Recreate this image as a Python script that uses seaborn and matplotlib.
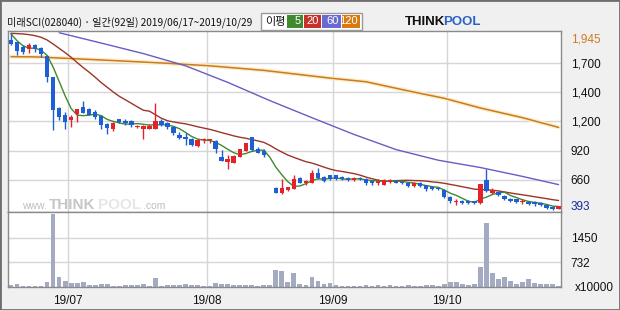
import numpy as np
import pandas as pd
import matplotlib
matplotlib.use('Agg')
import matplotlib.pyplot as plt
import matplotlib.patheffects as pe
from matplotlib.patches import Rectangle
import seaborn as sns

# 일간 시세 (2019/06/17 ~ 2019/10/29, 92일)
opens = [1886, 1869, 1822, 1810, 1840, 1816, 1746, 1565, 1287, 1229,
         1185, 1234, 1296, 1284, 1255, 1220, 1150, 1103, 1191, 1179,
         1173, 1120, 1109, 1109, 1109, 1179, 1155, 1126, 1050, 1038,
         1021, 957, 1009, 1009, 1003, 863, 816, 810, 863, 916,
         1033, 933, 916, 621, 585, 545, 571, 583, 676, 629,
         635, 717, 688, 700, 700, 688, 676, 659, 676, 670,
         647, 635, 618, 641, 653, 641, 635, 606, 635, 612,
         594, 588, 571, 513, 466, 478, 478, 472, 454, 659,
         542, 553, 518, 495, 489, 466, 466, 466, 460, 437,
         425, 407]
highs = [1945, 1869, 1842, 1863, 1851, 1828, 1758, 1565, 1302, 1258,
         1229, 1284, 1354, 1290, 1272, 1226, 1156, 1167, 1197, 1197,
         1185, 1138, 1138, 1150, 1337, 1190, 1167, 1132, 1079, 1074,
         1027, 1015, 1027, 1021, 1009, 922, 881, 875, 933, 986,
         1038, 951, 933, 621, 600, 665, 600, 705, 682, 659,
         746, 764, 694, 705, 705, 694, 688, 682, 682, 676,
         659, 665, 665, 665, 659, 653, 641, 641, 641, 618,
         606, 594, 577, 518, 495, 483, 483, 478, 620, 758,
         588, 559, 524, 501, 495, 489, 472, 477, 466, 442,
         431, 431]
lows = [1842, 1755, 1764, 1775, 1781, 1740, 1518, 1097, 1185, 1109,
        1120, 1170, 1243, 1226, 1191, 1109, 1062, 1085, 1156, 1138,
        1126, 1115, 1021, 1103, 1103, 1132, 1109, 1056, 1015, 968,
        957, 951, 980, 980, 898, 822, 758, 805, 857, 910,
        916, 892, 863, 621, 541, 538, 565, 577, 630, 612,
        629, 665, 641, 659, 659, 659, 647, 653, 659, 612,
        618, 618, 612, 635, 629, 623, 600, 600, 600, 565,
        571, 571, 501, 460, 442, 448, 448, 448, 448, 553,
        536, 518, 483, 466, 460, 448, 442, 431, 431, 407,
        393, 402]
closes = [1851, 1793, 1781, 1840, 1804, 1764, 1565, 1272, 1208, 1170,
          1208, 1278, 1249, 1232, 1214, 1138, 1115, 1161, 1167, 1161,
          1144, 1132, 1132, 1132, 1176, 1144, 1126, 1068, 1027, 1015,
          968, 1009, 1021, 1015, 933, 828, 846, 869, 927, 980,
          922, 898, 875, 621, 545, 585, 594, 670, 635, 647,
          717, 676, 653, 670, 670, 670, 659, 676, 665, 629,
          635, 653, 659, 659, 635, 629, 606, 629, 606, 577,
          583, 577, 507, 472, 478, 454, 454, 454, 620, 559,
          571, 524, 489, 472, 466, 477, 448, 448, 437, 413,
          402, 431]
# 거래량 (x10000)
volumes = [59, 88, 29, 29, 29, 29, 147, 2140, 293, 176,
           117, 117, 147, 59, 59, 88, 88, 29, 29, 59,
           59, 59, 88, 29, 264, 29, 59, 59, 59, 88,
           59, 59, 29, 29, 117, 88, 88, 59, 59, 59,
           59, 29, 59, 59, 498, 469, 147, 410, 88, 59,
           293, 176, 88, 117, 59, 29, 29, 29, 29, 59,
           29, 59, 29, 59, 29, 29, 59, 29, 29, 59,
           59, 29, 88, 147, 147, 88, 59, 88, 586, 1876,
           410, 234, 293, 176, 88, 147, 234, 117, 88, 88,
           88, 29]

# 5일선 / 20일선 앞부분 (이전 데이터 필요 구간, 차트에서 읽음)
ma5_head = [1939, 1880, 1835, 1815]
ma20_head = [1945, 1942, 1939, 1933, 1924, 1910, 1886, 1851, 1813, 1775,
             1734, 1688, 1644, 1603, 1559, 1512, 1471, 1430, 1392, 1362,
             1331, 1300, 1270]
# 60일선, 120일선
ma60_idx = [8, 15, 22, 29, 36, 43, 50, 57, 64, 71, 78, 85, 91]
ma60_val = [1950, 1859, 1767, 1660, 1515, 1355, 1205, 1058, 925, 832, 768, 690, 618]
ma120_idx = [0, 4, 15, 26, 33, 42, 53, 59, 66, 72, 78, 85, 91]
ma120_val = [1740, 1738, 1711, 1682, 1660, 1620, 1552, 1520, 1440, 1375, 1290, 1205, 1120]

month_start = [10, 33, 54, 73]
month_labels = ['19/07', '19/08', '19/09', '19/10']
price_labels = ['1,700', '1,400', '1,200', '920', '660']
vol_ticks = [732, 1450]

title = '미래SCI(028040) · 일간(92일) 2019/06/17~2019/10/29'

df = pd.DataFrame({'open': opens, 'high': highs, 'low': lows,
                   'close': closes, 'volume': volumes})
df['i'] = np.arange(len(df))
df['ma5'] = df['close'].rolling(5).mean()
df.loc[:len(ma5_head) - 1, 'ma5'] = ma5_head
df['ma20'] = df['close'].rolling(20).mean()
df.loc[:len(ma20_head) - 1, 'ma20'] = ma20_head

RED = '#e4222a'
BLUE = '#1f5fd6'

sns.set_theme(style='white')
plt.rcParams['font.family'] = ['Noto Sans CJK KR', 'DejaVu Sans']
LAT = ['Liberation Sans', 'DejaVu Sans']

W, H = 620, 310
fig = plt.figure(figsize=(6.2, 3.1), dpi=100, facecolor='#f0f0f0')

def fx(px):
    return px / W

def fy(py):
    return 1 - py / H

ax = fig.add_axes([fx(8), fy(212), (561 - 8) / W, (212 - 31) / H])
axv = fig.add_axes([fx(8), fy(287), (561 - 8) / W, (287 - 212) / H])

# 월 구분선
for a in (ax, axv):
    for m in month_start:
        a.axvline(m - 0.5, color='#d6d6d6', lw=1, zorder=0)
    a.set_xlim(-0.5, 91.4)
    for s in a.spines.values():
        s.set_color('#8a8a8a')
        s.set_linewidth(1)

# 캔들
up = df['close'] > df['open']
col = np.where(up, RED, BLUE)
ax.vlines(df['i'], df['low'], df['high'], colors=col, lw=1, zorder=3)
body = (df['close'] - df['open']).abs().clip(lower=6)
ax.bar(df['i'], body, bottom=np.minimum(df['open'], df['close']),
       width=0.72, color=col, lw=0, zorder=4)

# 이동평균선
sns.lineplot(x=ma120_idx, y=ma120_val, ax=ax, color='#c97a22', lw=1.1, zorder=2,
             path_effects=[pe.Stroke(linewidth=3, foreground='#fdeec8'), pe.Normal()])
sns.lineplot(x=ma60_idx, y=ma60_val, ax=ax, color='#6a5cc4', lw=1, zorder=2)
sns.lineplot(x=df['i'], y=df['ma20'], ax=ax, color='#9c3526', lw=1, zorder=2)
sns.lineplot(x=df['i'], y=df['ma5'], ax=ax, color='#3f8a2c', lw=1, zorder=2)

ax.set_ylim(378, 1965)
ax.set_yticks([1682, 1428, 1174, 916, 659])
ax.set_yticklabels(price_labels)
ax.yaxis.tick_right()
ax.tick_params(axis='y', length=0, pad=7, labelsize=8.5, labelcolor='#111111')
ax.tick_params(axis='x', bottom=False, labelbottom=False)
for t in ax.get_yticklabels():
    t.set_fontfamily(LAT)
ax.grid(axis='y', color='#d6d6d6', lw=1)
ax.set_xlabel('')
ax.set_ylabel('')

hi, lo = max(highs), min(lows)
ax.text(1.018, hi, f'{hi:,}', transform=ax.get_yaxis_transform(), color='#d07a22',
        va='top', ha='left', fontsize=8.5, family=LAT)
ax.text(1.018, lo, f'{lo:,}', transform=ax.get_yaxis_transform(), color='#1a2a9a',
        va='baseline', ha='left', fontsize=8.5, family=LAT)

# 거래량
sns.barplot(x=df['i'], y=df['volume'], ax=axv, native_scale=True, color='#a3abc2',
            width=0.78, saturation=1, linewidth=0, zorder=2)
axv.set_xlim(-0.5, 91.4)
axv.set_ylim(0, 2206)
axv.set_yticks(vol_ticks)
axv.set_yticklabels([str(v) for v in vol_ticks])
axv.yaxis.tick_right()
axv.grid(axis='y', color='#d6d6d6', lw=1)
axv.tick_params(axis='y', length=0, pad=7, labelsize=8.5, labelcolor='#111111')
axv.set_xticks([m - 0.5 for m in month_start])
axv.set_xticklabels(month_labels)
axv.tick_params(axis='x', length=0, pad=6, labelsize=8.5, labelcolor='#111111')
for t in axv.get_xticklabels() + axv.get_yticklabels():
    t.set_fontfamily(LAT)
axv.set_xlabel('')
axv.set_ylabel('')
fig.text(fx(575), fy(288), 'x10000', fontsize=8.5, va='center', ha='left',
         color='#111111', family=LAT)

# 제목
fig.text(fx(7), fy(22), title, fontsize=7.3, va='center', ha='left', color='#111111')

# 이평 범례
fig.add_artist(Rectangle((fx(261), fy(30)), 101 / W, 17 / H, transform=fig.transFigure,
                         facecolor='white', edgecolor='#9a9a9a', lw=1))
fig.text(fx(265), fy(22), '이평', fontsize=8, va='center', ha='left', color='#111111')
legend_items = [('5', '#3f8a2c', 287, 16), ('20', '#c8302a', 304, 17),
                ('60', '#6a6ad2', 322, 19), ('120', '#d87a12', 342, 18)]
for lab, c, x0, w in legend_items:
    fig.add_artist(Rectangle((fx(x0), fy(28)), w / W, 13 / H, transform=fig.transFigure,
                             facecolor=c, edgecolor='none'))
    fig.text(fx(x0 + w - 2), fy(21.5), lab, fontsize=8, va='center', ha='right',
             color='white', family=LAT)

# 로고
fig.text(fx(405), fy(22), 'THINK', fontsize=9.5, fontweight='bold', va='center',
         ha='left', color='#111111', family=LAT)
fig.text(fx(443), fy(22), 'POOL', fontsize=9.5, fontweight='bold', va='center',
         ha='left', color='#2a62c8', family=LAT)

# 워터마크
fig.text(fx(22), fy(209), 'www.', fontsize=7.5, color='#bdbdbd', va='baseline', family=LAT)
fig.text(fx(49), fy(209), 'THINK', fontsize=11, fontweight='bold', color='#c6c6c6',
         va='baseline', family=LAT)
fig.text(fx(98), fy(209), 'POOL', fontsize=11, fontweight='bold', color='#e6e6e6',
         va='baseline', family=LAT)
fig.text(fx(143), fy(209), '.com', fontsize=7.5, color='#bdbdbd', va='baseline', family=LAT)

fig.add_artist(Rectangle((0, 0), 1, 1, transform=fig.transFigure, fill=False,
                         edgecolor='#6e6e6e', lw=2))

fig.savefig('out.png', dpi=100, facecolor=fig.get_facecolor())
